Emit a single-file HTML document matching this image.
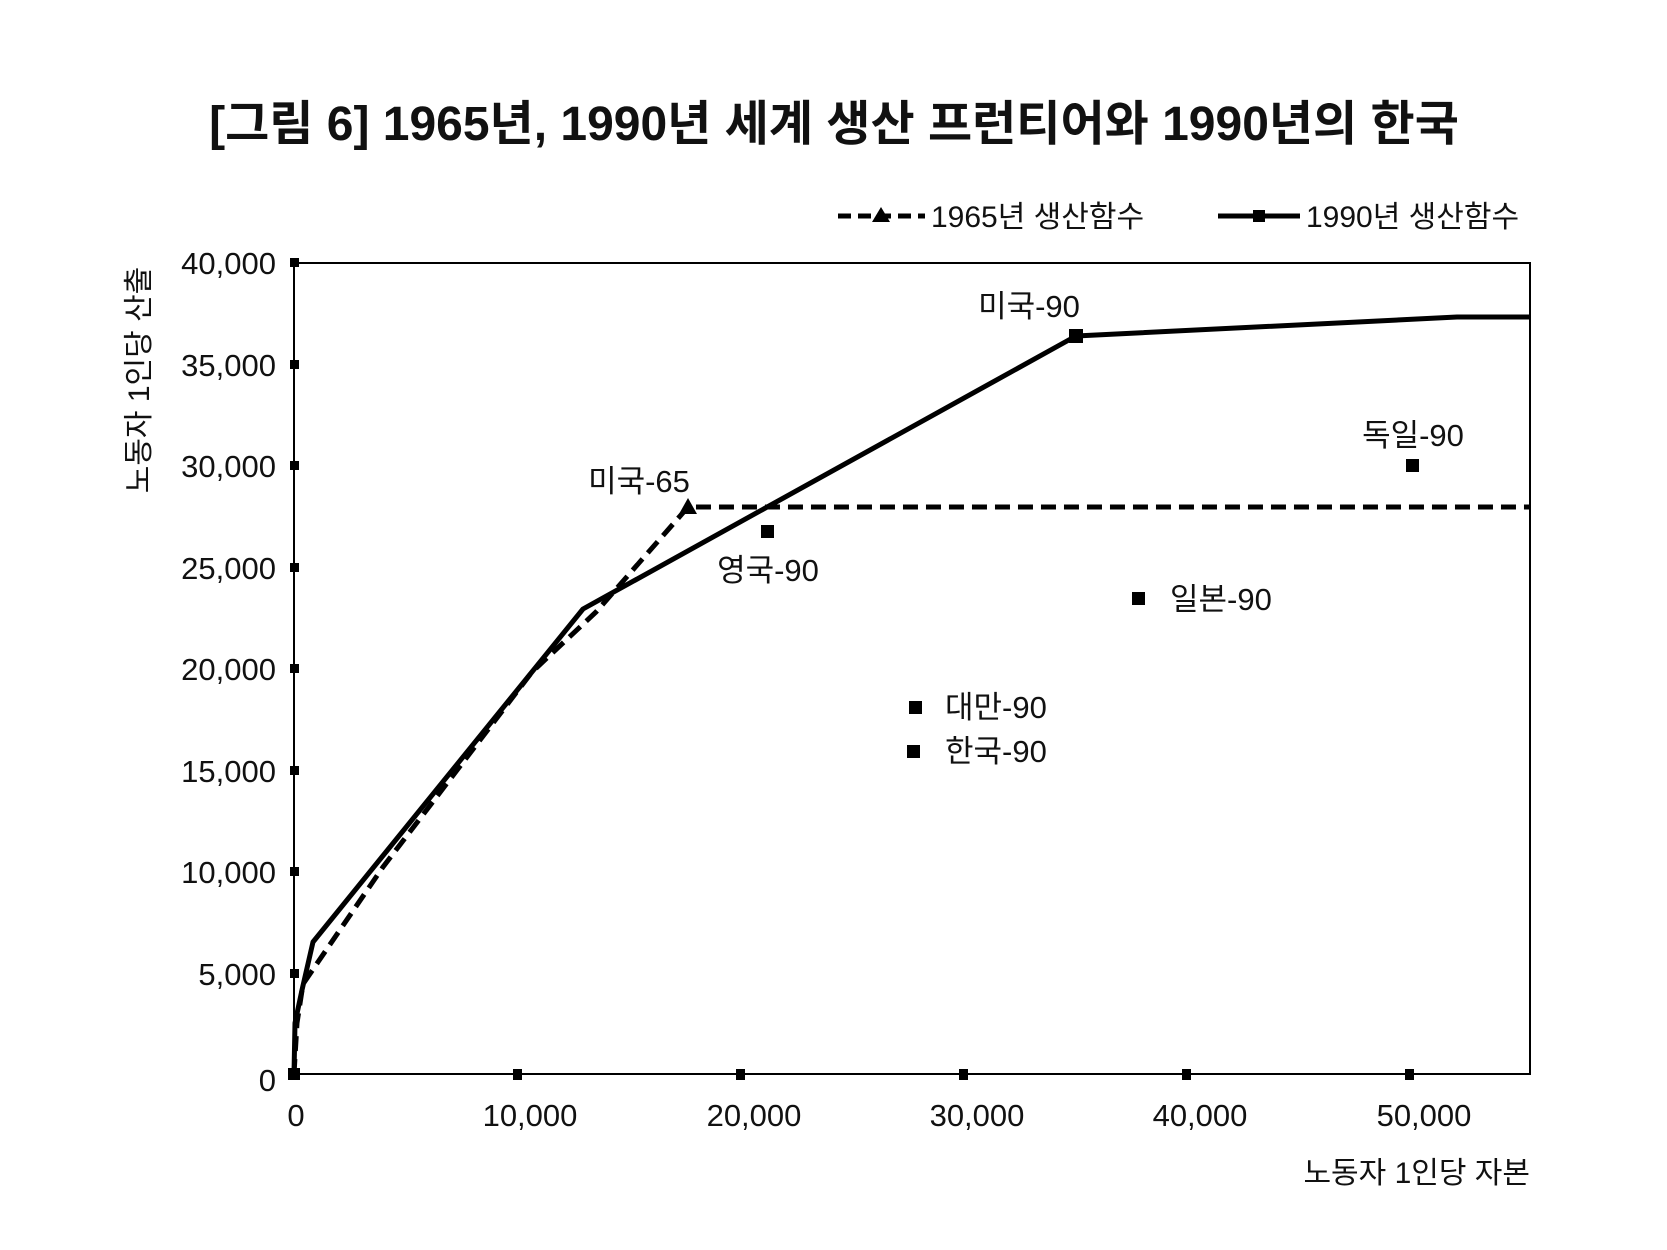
<!DOCTYPE html>
<html><head><meta charset="utf-8"><style>
html,body{margin:0;padding:0;background:#fff}
svg{display:block}
text{font-family:"Liberation Sans","Noto Sans CJK KR",sans-serif;fill:#111}
</style></head><body>
<svg width="1667" height="1250" viewBox="0 0 1667 1250" xmlns="http://www.w3.org/2000/svg">
<text x="834" y="140" text-anchor="middle" font-size="48" font-weight="bold">[그림 6] 1965년, 1990년 세계 생산 프런티어와 1990년의 한국</text>
<!-- legend -->
<line x1="838" y1="216" x2="925" y2="216" stroke="#000" stroke-width="5" stroke-dasharray="13,7"/>
<polygon points="881,207 890,222 872,222" fill="#000"/>
<text x="931" y="227" font-size="30">1965년 생산함수</text>
<line x1="1218" y1="216" x2="1300" y2="216" stroke="#000" stroke-width="5"/>
<rect x="1253" y="210" width="12" height="12" fill="#000"/>
<text x="1306" y="227" font-size="30">1990년 생산함수</text>
<!-- plot box -->
<rect x="294" y="263" width="1236" height="811" fill="none" stroke="#000" stroke-width="2"/>
<g fill="#000">
<rect x="290" y="258" width="9" height="9"/><rect x="290" y="360" width="9" height="9"/><rect x="290" y="461" width="9" height="9"/><rect x="290" y="563" width="9" height="9"/><rect x="290" y="664" width="9" height="9"/><rect x="290" y="766" width="9" height="9"/><rect x="290" y="867" width="9" height="9"/><rect x="290" y="969" width="9" height="9"/><rect x="290" y="1070" width="9" height="9"/>
<rect x="513" y="1069" width="9" height="11"/><rect x="736" y="1069" width="9" height="11"/><rect x="959" y="1069" width="9" height="11"/><rect x="1182" y="1069" width="9" height="11"/><rect x="1405" y="1069" width="9" height="11"/>
</g>
<g font-size="31" text-anchor="end">
<text x="276" y="274">40,000</text><text x="276" y="376">35,000</text><text x="276" y="477">30,000</text><text x="276" y="579">25,000</text><text x="276" y="680">20,000</text><text x="276" y="782">15,000</text><text x="276" y="883">10,000</text><text x="276" y="985">5,000</text><text x="276" y="1091">0</text>
</g>
<g font-size="31" text-anchor="middle">
<text x="296" y="1126">0</text><text x="530" y="1126">10,000</text><text x="754" y="1126">20,000</text><text x="977" y="1126">30,000</text><text x="1200" y="1126">40,000</text><text x="1424" y="1126">50,000</text>
</g>
<text x="1530" y="1183" font-size="30" text-anchor="end">노동자 1인당 자본</text>
<text transform="translate(149,380) rotate(-90)" font-size="30" text-anchor="middle">노동자 1인당 산출</text>
<!-- series -->
<polyline points="294,1074 297,1023 303,984 318,962 383,867 532,672 596,612 688,507 1530,507" fill="none" stroke="#000" stroke-width="5" stroke-dasharray="15,8"/>
<polyline points="294,1074 295,1023 302,990 313,942 583,609 1076,336 1457,317 1530,317" fill="none" stroke="#000" stroke-width="5" stroke-linejoin="round"/>
<polygon points="688,498 697,514 679,514" fill="#000"/>
<rect x="1069" y="329" width="14" height="14" fill="#000"/>
<rect x="288" y="1068" width="12" height="12" fill="#000"/>
<g fill="#000">
<rect x="761" y="525" width="13" height="13"/>
<rect x="1406" y="459" width="13" height="13"/>
<rect x="1132" y="592" width="13" height="13"/>
<rect x="909" y="701" width="13" height="13"/>
<rect x="907" y="745" width="13" height="13"/>
</g>
<g font-size="31">
<text x="1029" y="317" text-anchor="middle">미국-90</text>
<text x="639" y="492" text-anchor="middle">미국-65</text>
<text x="1413" y="446" text-anchor="middle">독일-90</text>
<text x="768" y="581" text-anchor="middle">영국-90</text>
<text x="1170" y="610">일본-90</text>
<text x="945" y="718">대만-90</text>
<text x="945" y="762">한국-90</text>
</g>
</svg>
</body></html>
